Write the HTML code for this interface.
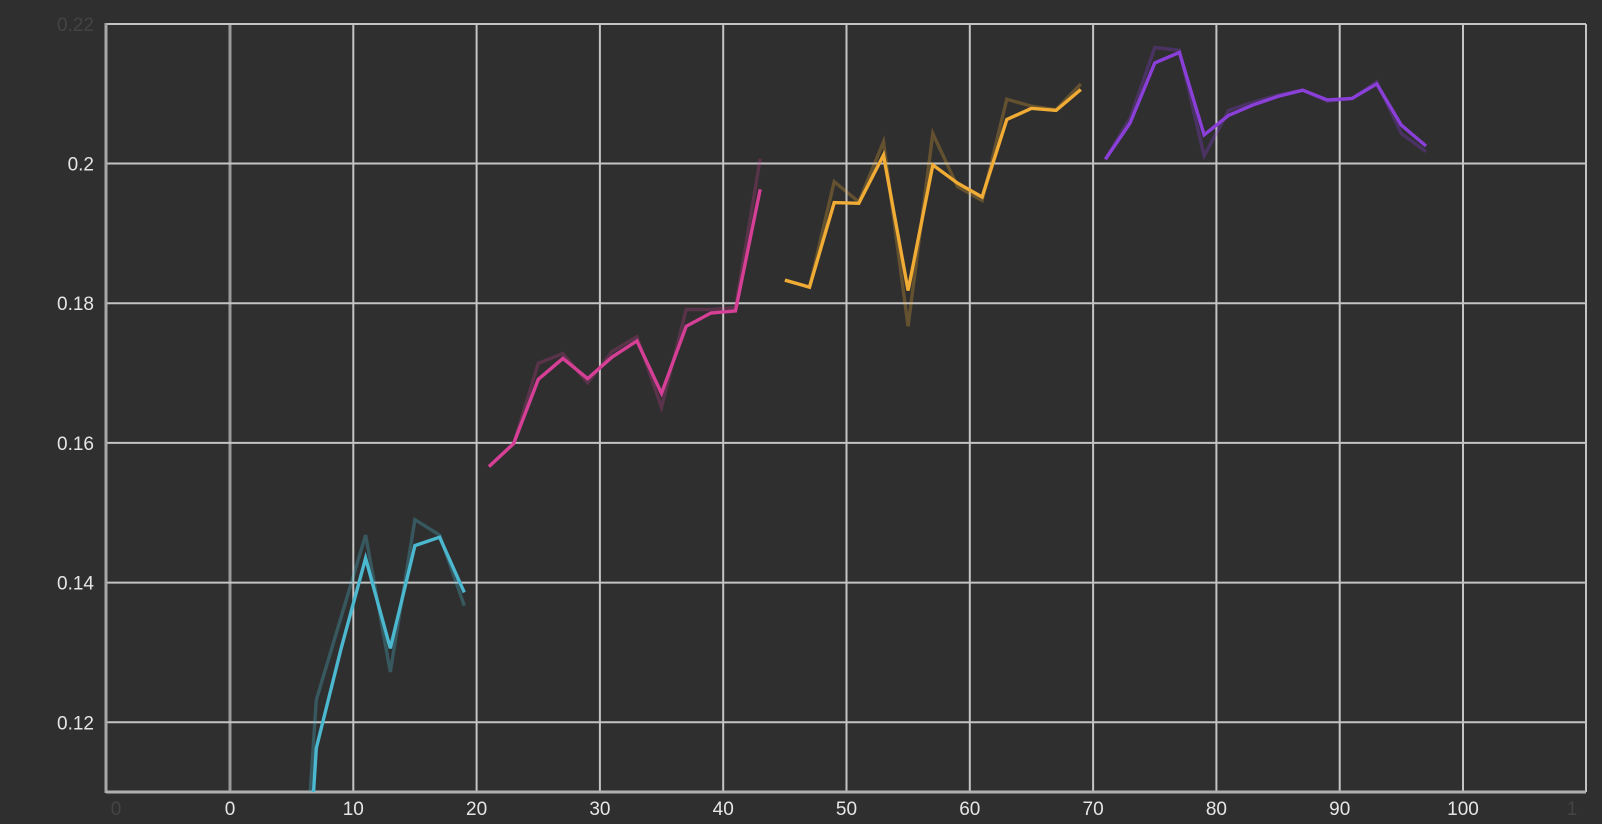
<!DOCTYPE html>
<html><head><meta charset="utf-8"><style>
html,body{margin:0;padding:0;background:#2f2f2f;overflow:hidden;width:1602px;height:824px;}
svg{display:block;font-family:"Liberation Sans",sans-serif;}
</style></head><body>
<svg id="chart" width="1602" height="824" viewBox="0 0 1602 824">
<defs><clipPath id="plotclip"><rect x="106" y="24" width="1480" height="768"/></clipPath></defs>
<rect x="0" y="0" width="1602" height="824" fill="#2f2f2f"/>
<g id="grid"></g>
<g id="series" clip-path="url(#plotclip)"></g>
<g id="labels"></g>
</svg>
<script>
const xTicks = [0,10,20,30,40,50,60,70,80,90,100];
const yTicks = [0.12,0.14,0.16,0.18,0.2];
const yTickLabels = ["0.12","0.14","0.16","0.18","0.2"];
const cyanX = [5,7,9,11,13,15,17,19];
const cyanSmooth = [0.06,0.1163,0.1305,0.1435,0.1306,0.1453,0.1465,0.1386];
const cyanRaw = [0.07,0.1232,0.135,0.1468,0.1272,0.149,0.1468,0.1367];
const pinkX = [21,23,25,27,29,31,33,35,37,39,41,43];
const pinkSmooth = [0.1566,0.1599,0.1691,0.1721,0.1692,0.1723,0.1746,0.1671,0.1767,0.1786,0.1789,0.1963];
const pinkRaw = [0.1566,0.1599,0.1714,0.1728,0.1686,0.1731,0.1752,0.1651,0.1791,0.1791,0.1794,0.2007];
const orangeX = [45,47,49,51,53,55,57,59,61,63,65,67,69];
const orangeSmooth = [0.1833,0.1823,0.1944,0.1943,0.2012,0.1818,0.1998,0.1972,0.1952,0.2063,0.2079,0.2076,0.2106];
const orangeRaw = [0.1833,0.1823,0.1974,0.1945,0.2031,0.1767,0.2043,0.1967,0.1947,0.2092,0.2082,0.2077,0.2114];
const purpleX = [71,73,75,77,79,81,83,85,87,89,91,93,95,97];
const purpleSmooth = [0.2006,0.2058,0.2144,0.2159,0.2041,0.2069,0.2084,0.2096,0.2105,0.2091,0.2093,0.2114,0.2055,0.2025];
const purpleRaw = [0.2006,0.2065,0.2166,0.2162,0.2011,0.2076,0.2088,0.2098,0.2105,0.2089,0.2093,0.2117,0.2043,0.2017];

const NS="http://www.w3.org/2000/svg";
const PL=106,PR=1586,PT=24,PB=792;
function sx(x){return 230 + x*12.33;}
function sy(v){return 163.5 + (0.2-v)*6985;}
function mk(tag,attrs,parent){const e=document.createElementNS(NS,tag);for(const k in attrs)e.setAttribute(k,attrs[k]);parent.appendChild(e);return e;}
const gridG=document.getElementById('grid'), serG=document.getElementById('series'), labG=document.getElementById('labels');

xTicks.forEach(t=>{
  const ln=mk('line',{x1:sx(t),x2:sx(t),y1:PT,y2:PB,stroke:t===0?'#9a9a9a':'#c4c4c4','stroke-width':t===0?3:2},gridG);
  
  
  const tx=mk('text',{x:sx(t),y:815,'text-anchor':'middle','font-size':19,fill:'#e6e6e6'},labG);
  tx.textContent=String(t);
  
  
});
yTicks.forEach((t,i)=>{
  const ln=mk('line',{x1:PL,x2:PR,y1:sy(t),y2:sy(t),stroke:'#c4c4c4','stroke-width':2},gridG);
  
  
  const tx=mk('text',{x:94,y:sy(t)+7,'text-anchor':'end','font-size':19,fill:'#e6e6e6'},labG);
  tx.textContent=yTickLabels[i];
  
  
});
const topBorder=mk('line',{x1:PL,x2:PR,y1:PT,y2:PT,stroke:'#c4c4c4','stroke-width':2},gridG);


const rightBorder=mk('line',{x1:PR,x2:PR,y1:PT,y2:PB,stroke:'#c4c4c4','stroke-width':2},gridG);


const yAxisLine=mk('line',{x1:PL,x2:PL,y1:PT-1,y2:PB+1,stroke:'#a8a8a8','stroke-width':3},gridG);


const xAxisLine=mk('line',{x1:PL,x2:PR,y1:PB,y2:PB,stroke:'#b0b0b0','stroke-width':3},gridG);


const f1=mk('text',{x:116,y:815,'text-anchor':'middle','font-size':19,fill:'#444'},labG);f1.textContent='0';


const f2=mk('text',{x:1572,y:815,'text-anchor':'middle','font-size':19,fill:'#444'},labG);f2.textContent='1';


const f3=mk('text',{x:94,y:31,'text-anchor':'end','font-size':19,fill:'#444'},labG);f3.textContent='0.22';



function drawLine(xs,vs,color,op,name){
  const d=xs.map((x,i)=>(i?'L':'M')+sx(x).toFixed(1)+' '+sy(vs[i]).toFixed(1)).join(' ');
  const p=mk('path',{d:d,fill:'none',stroke:color,'stroke-opacity':op,'stroke-width':3.4,'stroke-linejoin':'miter'},serG);
  
  
}
drawLine(cyanX,cyanRaw,'#4cb8cf',0.3,'cyan-raw-line');
drawLine(pinkX,pinkRaw,'#d63f96',0.25,'pink-raw-line');
drawLine(orangeX,orangeRaw,'#f0ac35',0.28,'orange-raw-line');
drawLine(purpleX,purpleRaw,'#8b3fd9',0.3,'purple-raw-line');
drawLine(cyanX,cyanSmooth,'#4cb8cf',1,'cyan-smoothed-line');
drawLine(pinkX,pinkSmooth,'#d63f96',1,'pink-smoothed-line');
drawLine(orangeX,orangeSmooth,'#f0ac35',1,'orange-smoothed-line');
drawLine(purpleX,purpleSmooth,'#8b3fd9',1,'purple-smoothed-line');
</script>
</body></html>
